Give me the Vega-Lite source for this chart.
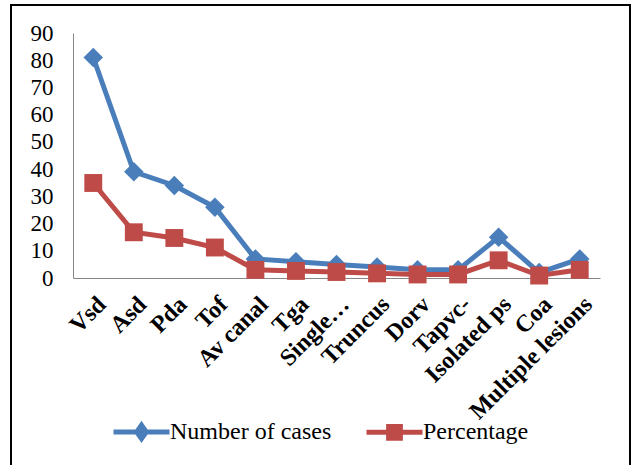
{
  "$schema": "https://vega.github.io/schema/vega-lite/v6.json",
  "width": 619,
  "height": 470,
  "autosize": {"type": "none"},
  "padding": {"left": 11, "top": 5, "right": 1, "bottom": 0},
  "background": "white",
  "config": {"view": {"stroke": "black", "strokeWidth": 2}, "font": "Liberation Serif"},
  "data": {"values": [
    {"lesion": "Vsd", "series": "Number of cases", "value": 81},
    {"lesion": "Asd", "series": "Number of cases", "value": 39},
    {"lesion": "Pda", "series": "Number of cases", "value": 34},
    {"lesion": "Tof", "series": "Number of cases", "value": 26},
    {"lesion": "Av canal", "series": "Number of cases", "value": 7},
    {"lesion": "Tga", "series": "Number of cases", "value": 6},
    {"lesion": "Single…", "series": "Number of cases", "value": 5},
    {"lesion": "Truncus", "series": "Number of cases", "value": 4},
    {"lesion": "Dorv", "series": "Number of cases", "value": 3},
    {"lesion": "Tapvc-", "series": "Number of cases", "value": 3},
    {"lesion": "Isolated ps", "series": "Number of cases", "value": 15},
    {"lesion": "Coa", "series": "Number of cases", "value": 2},
    {"lesion": "Multiple lesions", "series": "Number of cases", "value": 7},
    {"lesion": "Vsd", "series": "Percentage", "value": 34.9},
    {"lesion": "Asd", "series": "Percentage", "value": 16.8},
    {"lesion": "Pda", "series": "Percentage", "value": 14.7},
    {"lesion": "Tof", "series": "Percentage", "value": 11.2},
    {"lesion": "Av canal", "series": "Percentage", "value": 3.0},
    {"lesion": "Tga", "series": "Percentage", "value": 2.6},
    {"lesion": "Single…", "series": "Percentage", "value": 2.2},
    {"lesion": "Truncus", "series": "Percentage", "value": 1.7},
    {"lesion": "Dorv", "series": "Percentage", "value": 1.3},
    {"lesion": "Tapvc-", "series": "Percentage", "value": 1.3},
    {"lesion": "Isolated ps", "series": "Percentage", "value": 6.5},
    {"lesion": "Coa", "series": "Percentage", "value": 0.9},
    {"lesion": "Multiple lesions", "series": "Percentage", "value": 3.0}
  ]},
  "encoding": {
    "x": {
      "field": "lesion", "type": "nominal", "sort": null,
      "scale": {"type": "point", "padding": 0.5, "range": [62, 589]},
      "axis": {
        "title": null, "labelAngle": -45, "labelFont": "Liberation Serif",
        "labelFontSize": 24, "labelFontWeight": "bold", "labelColor": "black",
        "labelPadding": 14, "labelDx": -8.5, "labelDy": -1.4, "ticks": false,
        "domainColor": "#868686", "domainWidth": 1,
        "labelLimit": 300, "offset": -197
      }
    },
    "y": {
      "field": "value", "type": "quantitative",
      "scale": {"domain": [0, 90], "nice": false, "range": [273, 28]},
      "axis": {
        "title": null, "values": [0, 10, 20, 30, 40, 50, 60, 70, 80, 90],
        "labelFont": "Liberation Serif", "labelFontSize": 23, "labelColor": "black",
        "labelPadding": 20, "ticks": false, "grid": false,
        "domainColor": "#868686", "domainWidth": 1, "offset": -62
      }
    },
    "color": {
      "field": "series", "type": "nominal",
      "scale": {"domain": ["Number of cases", "Percentage"], "range": ["#4A7EBB", "#BE4B48"]},
      "legend": {
        "orient": "none", "legendX": 100, "legendY": 396, "direction": "horizontal",
        "title": null, "padding": 0, "labelLimit": 400,
        "labelFont": "Liberation Serif", "labelFontSize": 24, "labelColor": "black",
        "labelOffset": -2, "columnPadding": 24,
        "symbolSize": 3136, "symbolStrokeWidth": 5, "symbolOpacity": 1
      }
    }
  },
  "layer": [
    {"mark": {"type": "line", "strokeWidth": 5}},
    {
      "mark": {"type": "point", "filled": false, "opacity": 0, "size": 3136, "strokeWidth": 5},
      "encoding": {
        "shape": {
          "field": "series", "type": "nominal",
          "scale": {
            "domain": ["Number of cases", "Percentage"],
            "range": [
              "M-1,0L1,0M0,-0.24L0.17,0L0,0.24L-0.17,0Z",
              "M-1,0L1,0M-0.21,-0.21L0.21,-0.21L0.21,0.21L-0.21,0.21ZM-0.1,-0.1L0.1,-0.1L0.1,0.1L-0.1,0.1Z"
            ]
          }
        }
      }
    },
    {
      "transform": [{"filter": "datum.series === 'Number of cases'"}],
      "mark": {"type": "point", "shape": "diamond", "filled": true, "opacity": 1, "size": 380}
    },
    {
      "transform": [{"filter": "datum.series === 'Percentage'"}],
      "mark": {"type": "point", "shape": "square", "filled": true, "opacity": 1, "size": 320}
    }
  ]
}
